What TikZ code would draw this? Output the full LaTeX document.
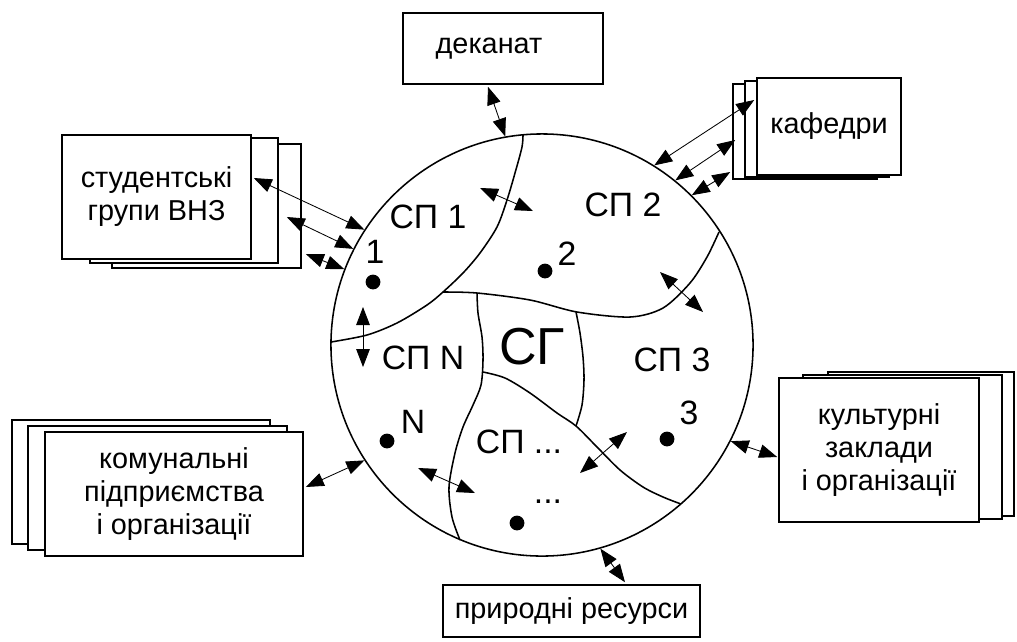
\documentclass[tikz,border=0pt]{standalone}
\usepackage{fontspec}
\setmainfont{Liberation Sans}
\usetikzlibrary{arrows.meta,calc}

\begin{document}
\begin{tikzpicture}[
      x=0.025cm, y=-0.025cm,
      box/.style={
        rectangle, draw, line width=1.1pt, fill=white, align=center,
        font=\fontsize{20.5pt}{23.5pt}\selectfont, inner sep=0pt
      },
      dbl/.style={<->, >={Triangle[length=4.5mm,width=3.4mm]}, line width=0.6pt},
      border/.style={line width=1.1pt},
      dot/.style={circle, fill, inner sep=0pt, minimum size=0.37cm},
      lbl/.style={font=\fontsize{24pt}{28pt}\selectfont, inner sep=0pt}
    ]
      \useasboundingbox (0,0) rectangle (1017,641);

      % the group circle
      \node[circle, draw, line width=1.1pt, minimum size=10.55cm, inner sep=0pt] (sg) at (542,345) {};

      % borders between the parts
      \draw[border] plot[smooth] coordinates {(331,342) (367,335) (397,323) (427,305) (443,292) (463,273) (480,253) (497,227) (507,200) (515,173) (522,147) (523,134)};
      \draw[border] plot[smooth] coordinates {(443,292) (477,293) (530,300) (577,312) (630,317) (663,308) (690,283) (707,257) (719,232)};
      \draw[border] plot[smooth] coordinates {(477,293) (478,313) (482,337) (483,360) (481,385) (473,405) (463,427) (455,453) (449,487) (452,517) (460,540)};
      \draw[border] plot[smooth] coordinates {(576,312) (580,333) (583,357) (584,380) (582,405) (576,426)};
      \draw[border] plot[smooth] coordinates {(483,372) (505,378) (530,393) (557,413) (576,426) (597,447) (620,470) (643,487) (663,497) (681,504)};

      % part labels
      \node[lbl] (sp1) at (428,217) {СП 1};
      \node[lbl] (sp2) at (623,205) {СП 2};
      \node[lbl] (spn) at (423,358) {СП N};
      \node[lbl] (sp3) at (672,360) {СП 3};
      \node[lbl] (spx) at (519,442) {СП ...};
      \node[lbl, font=\fontsize{37pt}{40pt}\selectfont] (sgl) at (532,347) {СГ};

      % points
      \node[dot] (d1) at (373,282) {};
      \node[dot] (d2) at (545,271) {};
      \node[dot] (dn) at (387,441) {};
      \node[dot] (d3) at (667,439) {};
      \node[dot] (dx) at (517,523) {};
      \node[lbl] (n1) at (375,252) {1};
      \node[lbl] (n2) at (567,254) {2};
      \node[lbl] (nn) at (413,422) {N};
      \node[lbl] (n3) at (689,413) {3};
      \node[lbl] (nx) at (548,502) {...};

      % links inside the circle
      \coordinate (a1) at (480,188);  \coordinate (b1) at (533,211);
      \coordinate (a2) at (660,272);  \coordinate (b2) at (703,312);
      \coordinate (a3) at (363,307);  \coordinate (b3) at (363,367);
      \coordinate (a4) at (418,468);  \coordinate (b4) at (475,493);
      \coordinate (a5) at (580,473);  \coordinate (b5) at (627,432);
      \draw[dbl] (a1) -- (b1);
      \draw[dbl] (a2) -- (b2);
      \draw[dbl] (a3) -- (b3);
      \draw[dbl] (a4) -- (b4);
      \draw[dbl] (a5) -- (b5);

      % outer partners
      \node[box, minimum width=5cm, minimum height=1.775cm] (dek) at (503,48.5) {деканат\hspace{0.7cm}};

      \node[box, minimum width=4.725cm, minimum height=3.1cm] (stud2) at (206.5,206) {};
      \node[box, minimum width=4.7cm, minimum height=3.125cm] (stud1) at (184,200.5) {};
      \node[box, minimum width=4.725cm, minimum height=3.1cm] (stud) at (156.5,197) {студентські\\групи ВНЗ};

      \node[box, minimum width=3.6cm, minimum height=2.375cm] (kaf2) at (805,131.5) {};
      \node[box, minimum width=3.6cm, minimum height=2.4cm] (kaf1) at (817,129) {};
      \node[box, minimum width=3.6cm, minimum height=2.425cm] (kaf) at (829,126.5) {кафедри};

      \node[box, minimum width=6.45cm, minimum height=3.1cm] (kom2) at (141,482) {};
      \node[box, minimum width=6.475cm, minimum height=3.1cm] (kom1) at (157.5,488) {};
      \node[box, minimum width=6.45cm, minimum height=3.1cm] (kom) at (174,494) {комунальні\\підприємства\\і організації};

      \node[box, minimum width=4.65cm, minimum height=3.6cm] (kult2) at (921,444) {};
      \node[box, minimum width=4.975cm, minimum height=3.6cm] (kult1) at (902.5,447) {};
      \node[box, minimum width=5cm, minimum height=3.6cm] (kult) at (879,450) {культурні\\заклади\\і організації};

      \node[box, minimum width=6.425cm, minimum height=1.3cm] (prir) at (571.5,611) {природні ресурси};

      % links to the partners
      \draw[dbl] ($(dek.south)+(-15,2)$) -- (sg.100);
      \draw[dbl] ($(stud.east)+(2,-19)$) -- (sg.147);
      \draw[dbl] ($(stud1.east)+(8,16.5)$) -- (sg.153);
      \draw[dbl] ($(stud2.east)+(4,48)$) -- (sg.159);
      \draw[dbl] ($(kaf.west)+(-2,-26.5)$) -- (sg.58);
      \draw[dbl] ($(kaf2.west)+(3,8.5)$) -- (sg.51);
      \draw[dbl] ($(kaf2.west)+(-2,40.5)$) -- (sg.45);
      \draw[dbl] ($(kom.east)+(2,-7)$) -- (sg.213);
      \draw[dbl] ($(kult.west)+(-1,7)$) -- (sg.-27);
      \draw[dbl] ($(prir.north)+(53.5,-2)$) -- (sg.-74);
    \end{tikzpicture}
\end{document}
